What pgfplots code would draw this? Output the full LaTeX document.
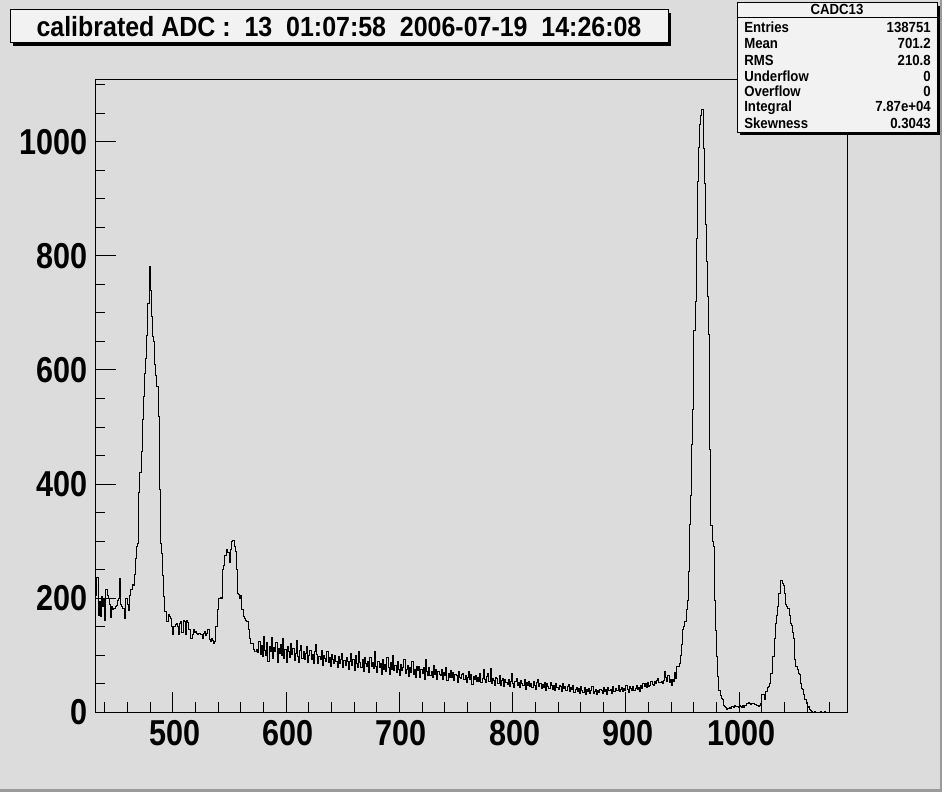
\documentclass[border=0pt]{standalone}
\usepackage{fontspec}
\setmainfont{Liberation Sans}
\newfontfamily\rootfont{Liberation Sans}[FakeStretch=0.9]
\newfontfamily\tickfont{Liberation Sans}[FakeStretch=0.85]
\usepackage{pgfplots}
\pgfplotsset{compat=1.18}
\definecolor{canvasbg}{HTML}{DCDCDC}
\definecolor{pavebg}{HTML}{F2F2F2}
\definecolor{edgegray}{HTML}{9A9A9A}

\begin{document}
\begin{tikzpicture}[x=0.75pt,y=-0.75pt]
\fill[canvasbg] (0,0) rectangle (942,792);
\useasboundingbox (0,0) rectangle (942,792);
\fill[edgegray] (0,789) rectangle (942,792);
\fill[edgegray] (940,0) rectangle (942,792);
\coordinate (frameSW) at (95,712.5);

\begin{axis}[
    at={(frameSW)}, anchor=south west,
    scale only axis,
    width=564.6pt, height=474.4pt,
    xmin=431.3, xmax=1095.8,
    ymin=0, ymax=1108,
    axis line style={line width=0.75pt},
    tick style={line width=0.75pt, black},
    tick align=inside,
    tick pos=left,
    xtick={500,600,...,1000},
    minor xtick={440,460,...,1080},
    ytick={0,200,...,1000},
    minor ytick={50,100,...,1100},
    major tick length=15.5pt,
    minor tick length=7.8pt,
    ticklabel style={font=\tickfont\bfseries\fontsize{27pt}{28pt}\selectfont, inner sep=0pt},
    xticklabel style={yshift=-6pt, xshift=1.5pt},
    yticklabel style={xshift=-5.5pt},
    /pgf/number format/assume math mode=true,
    /pgf/number format/1000 sep={},
]
% calibrated ADC spectrum, one unit per bin
\addplot[const plot, black, line width=0.75pt] coordinates {
(431,200)(432,205)(433,236)(434,170)(435,195)(436,168)(437,203)(438,185)(439,200)(440,162)
(441,215)(442,205)(443,200)(444,190)(445,167)(446,185)(447,180)(448,182)(449,185)(450,188)
(451,197)(452,200)(453,235)(454,190)(455,185)(456,182)(457,165)(458,200)(459,200)(460,190)
(461,179)(462,205)(463,215)(464,225)(465,223)(466,242)(467,270)(468,290)(469,296)(470,385)
(471,420)(472,457)(473,514)(474,553)(475,594)(476,620)(477,661)(478,717)(479,782)(480,740)
(481,693)(482,658)(483,650)(484,609)(485,590)(486,571)(487,518)(488,390)(489,296)(490,278)
(491,240)(492,203)(493,177)(494,160)(495,160)(496,171)(497,168)(498,165)(499,150)(500,136)
(501,150)(502,155)(503,156)(504,150)(505,136)(506,156)(507,160)(508,140)(509,162)(510,160)
(511,136)(512,162)(513,158)(514,145)(515,145)(516,130)(517,136)(518,145)(519,140)(520,142)
(521,138)(522,136)(523,138)(524,136)(525,136)(526,130)(527,139)(528,142)(529,135)(530,139)
(531,145)(532,128)(533,124)(534,130)(535,126)(536,121)(537,125)(538,150)(539,180)(540,200)
(541,200)(542,202)(543,200)(544,250)(545,258)(546,275)(547,285)(548,280)(549,280)(550,262)
(551,285)(552,300)(553,302)(554,290)(555,282)(556,250)(557,209)(558,206)(559,200)(560,205)
(561,180)(562,168)(563,165)(564,162)(565,160)(566,160)(567,145)(568,130)(569,121)(570,121)
(571,110)(572,106)(573,106)(574,110)(575,105)
(576,125)(577,102)(578,118)(579,98)(580,134)(581,109)(582,99)(583,122)(584,90)(585,115)
(586,106)(587,131)(588,95)(589,114)(590,107)(591,123)(592,88)(593,112)(594,103)(595,120)
(596,100)(597,129)(598,94)(599,110)(600,87)(601,116)(602,107)(603,97)(604,121)(605,102)
(606,112)(607,91)(608,104)(609,127)(610,98)(611,87)(612,109)(613,117)(614,95)(615,106)
(616,92)(617,104)(618,116)(619,87)(620,100)(621,109)(622,93)(623,101)(624,85)(625,106)
(626,120)(627,101)(628,85)(629,98)(630,92)(631,109)(632,82)(633,100)(634,95)(635,89)
(636,107)(637,88)(638,97)(639,80)(640,102)(641,93)(642,85)(643,99)(644,89)(645,78)
(646,98)(647,85)(648,93)(649,104)(650,78)(651,91)(652,83)(653,96)(654,90)(655,75)
(656,90)(657,103)(658,82)(659,93)(660,74)(661,99)(662,85)(663,79)(664,106)(665,87)
(666,78)(667,93)(668,72)(669,97)(670,85)(671,81)(672,89)(673,70)(674,96)(675,80)
(676,88)(677,77)(678,106)(679,80)(680,70)(681,90)(682,78)(683,85)(684,67)(685,93)
(686,75)(687,84)(688,72)(689,97)(690,78)(691,67)(692,88)(693,76)(694,100)(695,73)
(696,82)(697,70)(698,89)(699,76)(700,65)(701,84)(702,73)(703,79)(704,92)(705,68)
(706,75)(707,83)(708,63)(709,78)(710,70)(711,89)(712,67)(713,76)(714,62)(715,81)
(716,73)(717,81)(718,61)(719,76)(720,68)(721,79)(722,58)(723,92)(724,71)(725,65)
(726,79)(727,64)(728,72)(729,61)(730,83)(731,67)(732,75)(733,58)(734,71)(735,66)
(736,64)(737,75)(738,57)(739,70)(740,65)(741,78)(742,56)(743,69)(744,62)(745,73)
(746,61)(747,70)(748,56)(749,67)(750,64)(751,53)(752,72)(753,62)(754,59)(755,66)
(756,69)(757,57)(758,65)(759,52)(760,61)(761,71)(762,58)(763,66)(764,49)(765,63)
(766,58)(767,65)(768,54)(769,62)(770,55)(771,68)(772,52)(773,60)(774,76)(775,57)
(776,52)(777,63)(778,69)(779,55)(780,77)(781,50)(782,60)(783,56)(784,48)(785,61)
(786,59)(787,51)(788,64)(789,48)(790,56)(791,60)(792,46)(793,57)(794,52)(795,49)
(796,57)(797,46)(798,55)(799,68)(800,50)(801,44)(802,54)(803,60)(804,47)(805,52)
(806,44)(807,56)(808,50)(809,47)(810,58)(811,40)(812,52)(813,48)(814,55)(815,45)
(816,51)(817,43)(818,54)(819,48)(820,40)(821,53)(822,58)(823,45)(824,50)(825,42)
(826,49)(827,44)(828,52)(829,39)(830,50)(831,45)(832,42)(833,53)(834,47)(835,41)
(836,47)(837,39)(838,50)(839,43)(840,40)(841,48)(842,45)(843,37)(844,51)(845,42)
(846,46)(847,38)(848,45)(849,49)(850,37)(851,43)(852,40)(853,48)(854,35)(855,41)
(856,43)(857,37)(858,42)(859,34)(860,45)(861,38)(862,35)(863,43)(864,32)(865,40)
(866,36)(867,42)(868,34)(869,39)(870,45)(871,33)(872,37)(873,41)(874,31)(875,39)
(876,35)(877,41)(878,38)(879,33)(880,43)(881,36)(882,40)(883,32)(884,44)(885,38)
(886,41)(887,34)(888,45)(889,37)(890,36)(891,42)(892,39)(893,47)(894,36)(895,41)
(896,43)(897,37)(898,42)(899,38)(900,48)(901,40)(902,35)(903,45)(904,42)(905,38)
(906,45)(907,39)(908,42)(909,48)(910,40)(911,44)(912,37)(913,47)(914,42)(915,50)
(916,45)(917,50)(918,44)(919,53)(920,46)(921,48)(922,54)(923,49)(924,47)(925,55)
(926,50)(927,56)(928,60)(929,52)
(930,52)(931,54)(932,50)(933,56)(934,72)(935,62)(936,55)(937,65)(938,52)(939,57)
(940,48)(941,58)(942,55)(943,70)(944,60)(945,80)(946,80)(947,85)(948,100)(949,120)
(950,145)(951,150)(952,159)(953,180)(954,197)(955,247)(956,330)(957,380)(958,470)(959,530)
(960,670)(961,720)(962,830)(963,930)(964,990)(965,1030)(966,1045)(967,1056)(968,988)(969,927)
(970,854)(971,790)(972,728)(973,662)(974,460)(975,328)(976,300)(977,290)(978,197)(979,144)
(980,98)(981,63)(982,39)(983,30)(984,25)(985,22)(986,12)(987,10)(988,8)(989,6)
(990,7)(991,8)(992,7)(993,11)(994,10)(995,9)(996,12)(997,10)(998,11)(999,9)
(1000,12)(1001,10)(1002,8)(1003,12)(1004,9)(1005,13)(1006,16)(1007,15)(1008,17)(1009,16)
(1010,14)(1011,15)(1012,16)(1013,14)(1014,14)(1015,13)(1016,12)(1017,11)(1018,12)(1019,16)
(1020,31)(1021,31)(1022,22)(1023,37)(1024,37)(1025,43)(1026,45)(1027,51)(1028,69)(1029,98)
(1030,98)(1031,130)(1032,156)(1033,170)(1034,185)(1035,208)(1036,232)(1037,232)(1038,226)(1039,223)
(1040,209)(1041,190)(1042,185)(1043,182)(1044,170)(1045,156)(1046,153)(1047,140)(1048,130)(1049,92)
(1050,80)(1051,75)(1052,68)(1053,66)(1054,50)(1055,42)(1056,40)(1057,31)(1058,22)(1059,16)
(1060,8)(1061,10)(1062,6)(1063,3)(1064,2)(1065,0)(1066,2)(1067,0)(1068,0)(1069,0)
(1070,0)(1071,0)(1072,2)(1073,0)(1074,0)(1075,1)(1076,0)(1080,0)(1096,0)
};
\end{axis}

% title pave
\fill[black] (13,13) rectangle (671,46);
\filldraw[fill=pavebg, draw=black, line width=0.75pt] (10,10) rectangle (668,43);
\node[font=\rootfont\bfseries\fontsize{20.8pt}{22pt}\selectfont, inner sep=0pt]
  at (339,26.5) {calibrated ADC :\ \ 13\ \ 01:07:58\ \ 2006-07-19\ \ 14:26:08};

% statistics box
\fill[black] (740,6) rectangle (940,135);
\filldraw[fill=pavebg, draw=black, line width=0.75pt] (737,3) rectangle (937,132);
\draw[line width=0.75pt] (737,18) -- (937,18);
\begin{scope}[every node/.style={font=\rootfont\bfseries\fontsize{11pt}{12pt}\selectfont, inner sep=0pt}]
\node[anchor=base] at (837,15) {CADC13};
\node[anchor=base west] at (744,33) {Entries};    \node[anchor=base east] at (931,33) {138751};
\node[anchor=base west] at (744,49) {Mean};       \node[anchor=base east] at (931,49) {701.2};
\node[anchor=base west] at (744,65) {RMS};        \node[anchor=base east] at (931,65) {210.8};
\node[anchor=base west] at (744,81) {Underflow};  \node[anchor=base east] at (931,81) {0};
\node[anchor=base west] at (744,96.5) {Overflow}; \node[anchor=base east] at (931,96.5) {0};
\node[anchor=base west] at (744,112) {Integral};  \node[anchor=base east] at (931,112) {7.87e+04};
\node[anchor=base west] at (744,128) {Skewness};  \node[anchor=base east] at (931,128) {0.3043};
\end{scope}
\end{tikzpicture}
\end{document}
